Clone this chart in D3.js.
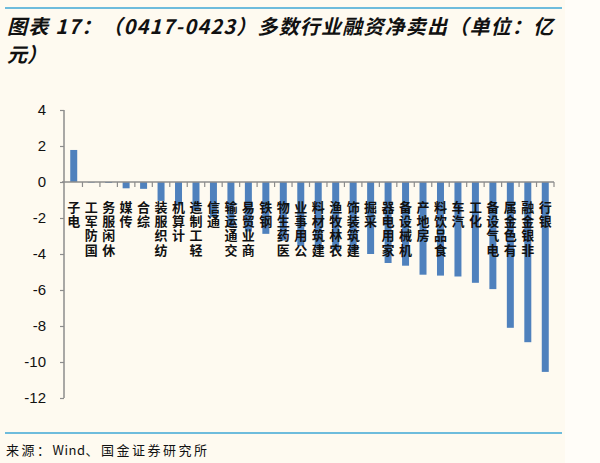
<!DOCTYPE html>
<html>
<head>
<meta charset="utf-8">
<script src="https://cdn.jsdelivr.net/npm/d3@7"></script>
<style>
  body { margin: 0; background: #fffdf8; }
  svg { display: block; }
</style>
</head>
<body>
<div id="svg-area"></div>
<script>
var svgWidth = 600;
var svgHeight = 463;

// categories and values (亿元)
var industries = ["电子", "国防军工", "休闲服务", "传媒", "综合", "纺织服装", "计算机", "轻工制造",
    "通信", "交通运输", "商业贸易", "钢铁", "医药生物", "公用事业", "建筑材料", "农林牧渔",
    "建筑装饰", "采掘", "家用电器", "机械设备", "房地产", "食品饮料", "汽车", "化工",
    "电气设备", "有色金属", "非银金融", "银行"];
var netSell = [1.78, -0.03, -0.05, -0.35, -0.38, -1.05, -1.3, -1.6,
    -1.95, -2.5, -2.75, -2.88, -3.25, -3.55, -3.7, -3.8,
    -3.9, -4.0, -4.5, -4.65, -5.15, -5.2, -5.25, -5.6,
    -5.95, -8.1, -8.9, -10.55];
var yTicks = [4, 2, 0, -2, -4, -6, -8, -10, -12];

var titleLine1 = "图表 17：（0417-0423）多数行业融资净卖出（单位：亿";
var titleLine2 = "元）";
var sourceParts = ["来源：", "Wind", "、国金证券研究所"];

var data = industries.map(function (d, i) {
    return { name: d, value: netSell[i] };
});

var svg = d3.select("#svg-area")
    .append("svg")
    .attr("width", svgWidth)
    .attr("height", svgHeight);

// cream panel
svg.append("rect")
    .attr("width", 565)
    .attr("height", svgHeight)
    .attr("fill", "#fefaf0");

// header / footer rules
svg.append("line")
    .attr("x1", 5).attr("x2", 562)
    .attr("y1", 8).attr("y2", 8)
    .attr("stroke", "#3ea7d6")
    .attr("stroke-width", 1.5);
svg.append("line")
    .attr("x1", 5).attr("x2", 562)
    .attr("y1", 433).attr("y2", 433)
    .attr("stroke", "#3ea7d6")
    .attr("stroke-width", 1.5);

// title
var title = svg.append("g")
    .attr("font-family", "'Noto Sans CJK SC', sans-serif")
    .attr("font-size", "20px")
    .attr("font-weight", "bold")
    .attr("font-style", "italic")
    .attr("fill", "#111");
title.append("text").attr("x", 7).attr("y", 34)
    .attr("textLength", 546).attr("lengthAdjust", "spacing")
    .text(titleLine1);
title.append("text").attr("x", 7).attr("y", 62).text(titleLine2);

// source note
var note = svg.append("text")
    .attr("x", 6)
    .attr("y", 455)
    .attr("font-family", "'Noto Sans CJK SC', monospace")
    .attr("font-size", "13px")
    .attr("fill", "#111");
note.selectAll("tspan")
    .data(sourceParts)
    .enter()
    .append("tspan")
    .attr("letter-spacing", (d, i) => i === 1 ? "0.5px" : "2.5px")
    .text(d => d);

// scales
var x = d3.scaleBand()
    .domain(industries)
    .range([65, 554])
    .paddingInner(0.6)
    .paddingOuter(0.3);

var y = d3.scaleLinear()
    .domain([-12, 4])
    .range([398, 110]);

// bars
svg.append("g")
    .selectAll("rect")
    .data(data)
    .enter()
    .append("rect")
    .attr("x", d => x(d.name))
    .attr("width", x.bandwidth())
    .attr("y", d => y(Math.max(0, d.value)))
    .attr("height", d => Math.abs(y(d.value) - y(0)))
    .attr("fill", "#4f81bd");

// y axis
var leftAxis = d3.axisLeft(y)
    .tickValues(yTicks)
    .tickFormat(d => String(d))
    .tickSize(4)
    .tickPadding(14);

var yAxis = svg.append("g")
    .attr("transform", "translate(64,0)")
    .call(leftAxis);
yAxis.select(".domain").attr("stroke", "#8c8c8c").attr("stroke-width", 1.5).attr("d", "M0,110V398");
yAxis.selectAll(".tick line").attr("stroke", "#8c8c8c").attr("stroke-width", 1.2);
yAxis.selectAll(".tick text")
    .attr("font-family", "'Liberation Sans', Arial, sans-serif")
    .attr("font-size", "15px")
    .attr("fill", "#111");

// x axis at zero with ticks between categories
var step = x.step();
var boundaries = industries.map(function (d) { return x(d) - step * 0.3; });
boundaries.push(x(industries[industries.length - 1]) + x.bandwidth() + step * 0.3);

var xAxis = svg.append("g");
xAxis.append("line")
    .attr("x1", 62).attr("x2", boundaries[boundaries.length - 1])
    .attr("y1", y(0)).attr("y2", y(0))
    .attr("stroke", "#8c8c8c")
    .attr("stroke-width", 1.5);
xAxis.selectAll("line.tick")
    .data(boundaries.slice(1))
    .enter()
    .append("line")
    .attr("class", "tick")
    .attr("x1", d => d).attr("x2", d => d)
    .attr("y1", y(0)).attr("y2", y(0) + 5)
    .attr("stroke", "#8c8c8c")
    .attr("stroke-width", 1.2);

// stacked category labels, last character on top
var charStep = 14.2;
var labels = svg.append("g")
    .attr("font-family", "'Noto Sans CJK SC', sans-serif")
    .attr("font-size", "13px")
    .attr("font-weight", "bold")
    .attr("fill", "#111")
    .attr("text-anchor", "middle");

data.forEach(function (d) {
    var chars = d.name.split("").reverse();
    labels.selectAll(null)
        .data(chars)
        .enter()
        .append("text")
        .attr("x", x(d.name) + x.bandwidth() / 2)
        .attr("y", (c, i) => y(0) + 30 + i * charStep)
        .text(c => c);
});
</script>
</body>
</html>
